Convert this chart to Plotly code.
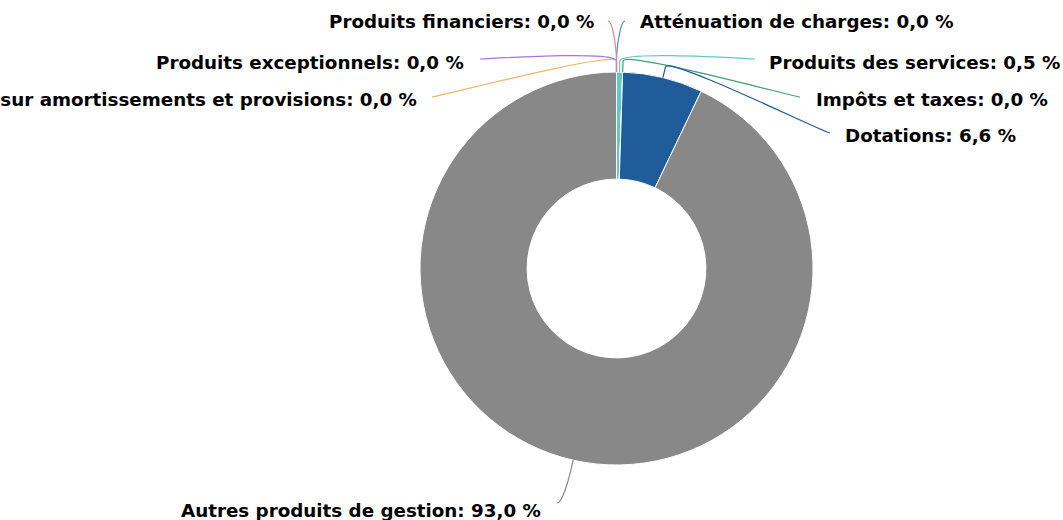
import math

import plotly.graph_objects as go

# Données (parts en %)
labels = [
    "Atténuation de charges",
    "Produits des services",
    "Impôts et taxes",
    "Dotations",
    "Autres produits de gestion",
    "Reprises sur amortissements et provisions",
    "Produits exceptionnels",
    "Produits financiers",
]
shares = [0.0, 0.5, 0.0, 6.6, 93.0, 0.0, 0.0, 0.0]
colors = ["#4a8fd6", "#5fc9cf", "#3f9f74", "#1f5c99", "#888888", "#f5b469", "#a873e8", "#ef7f8a"]

# Placement des étiquettes (px) : côté, ancre texte x, y du texte, extrémité du connecteur
label_side = ["right", "right", "right", "right", "left", "left", "left", "left"]
label_x = [638, 767, 814, 843, 543, 419, 466, 596]
label_y = [22, 62, 99, 136, 510, 100, 62, 22]
line_end_x = [625, 755, 800, 830, 557, 432, 480, 608]
line_end_y = [21, 59, 97, 133, 503, 97, 59, 21]

W, H = 1063, 520
CX, CY, R = 616.5, 268.5, 196.5
HOLE = 0.455
BREAK = 11


def px(x, y):
    return x / W, 1 - y / H


def fmt_pct(v):
    return f"{v:.1f}".replace(".", ",") + " %"


fig = go.Figure(
    go.Pie(
        labels=labels,
        values=shares,
        marker=dict(colors=colors, line=dict(color="#ffffff", width=1)),
        hole=HOLE,
        sort=False,
        direction="clockwise",
        rotation=0,
        textinfo="none",
        showlegend=False,
        domain=dict(
            x=[(CX - R) / W, (CX + R) / W],
            y=[1 - (CY + R) / H, 1 - (CY - R) / H],
        ),
        hovertemplate="%{label}: %{percent}<extra></extra>",
    )
)

total = sum(shares)
cum = 0.0
shapes = []
annotations = []
for i, v in enumerate(shares):
    mid = (cum + v / 2) / total * 2 * math.pi
    cum += v
    sx, sy = math.sin(mid), -math.cos(mid)
    ex, ey = CX + R * sx, CY + R * sy
    bx, by = CX + (R + BREAK) * sx, CY + (R + BREAK) * sy
    lx, ly = line_end_x[i], line_end_y[i]
    step = -5 if label_side[i] == "right" else 5
    pts = [
        px(lx, ly),
        px(lx + step, ly),
        px(2 * bx - ex, 2 * by - ey),
        px(bx, by),
        px(ex, ey),
    ]
    path = "M {0[0]},{0[1]} C {1[0]},{1[1]} {2[0]},{2[1]} {3[0]},{3[1]} L {4[0]},{4[1]}".format(*pts)
    shapes.append(
        dict(
            type="path",
            xref="paper",
            yref="paper",
            path=path,
            line=dict(color=colors[i], width=1.2),
            layer="above",
        )
    )
    tx, ty = px(label_x[i], label_y[i])
    annotations.append(
        dict(
            x=tx,
            y=ty,
            xref="paper",
            yref="paper",
            text=f"<b>{labels[i]}: {fmt_pct(v)}</b>",
            showarrow=False,
            xanchor="left" if label_side[i] == "right" else "right",
            yanchor="middle",
            font=dict(family="DejaVu Sans", size=18.3, color="#000000"),
        )
    )

fig.update_layout(
    width=W,
    height=H,
    margin=dict(l=0, r=0, t=0, b=0),
    paper_bgcolor="#ffffff",
    plot_bgcolor="#ffffff",
    shapes=shapes,
    annotations=annotations,
)

fig.write_html(
    "out.html",
    config={"displayModeBar": False},
    post_script="document.body.style.margin = '0';",
)
